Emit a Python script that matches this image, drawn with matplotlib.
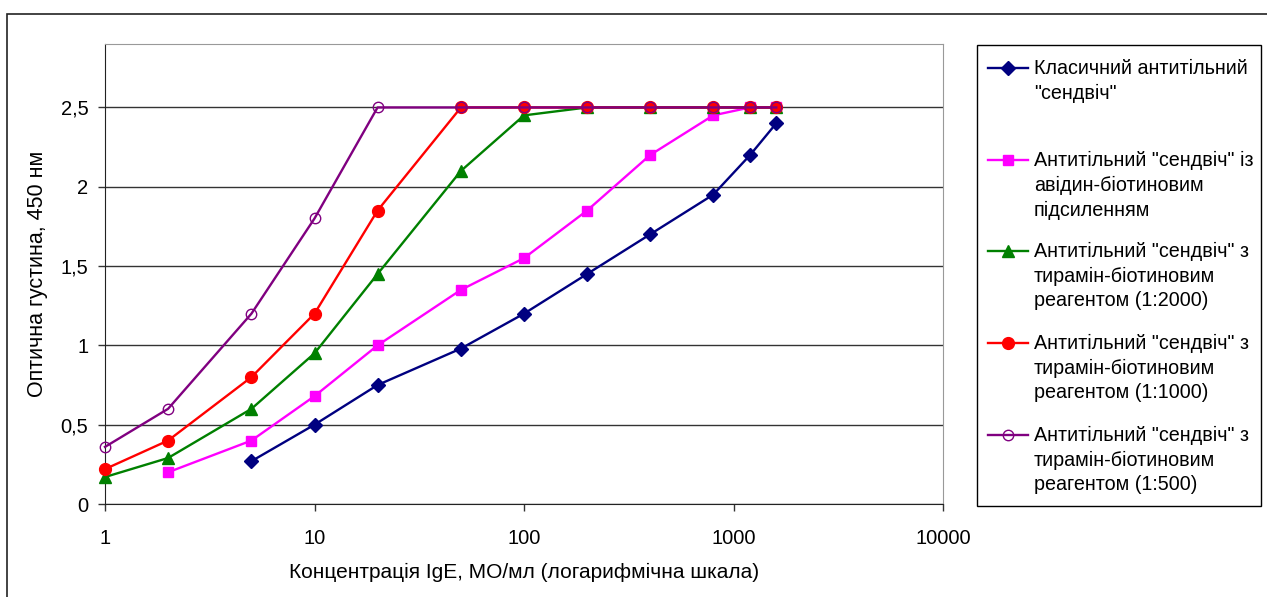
import matplotlib
matplotlib.use("Agg")
import matplotlib.pyplot as plt
from matplotlib.lines import Line2D
from matplotlib.patches import Rectangle

plt.rcParams['font.family'] = ['Liberation Sans', 'DejaVu Sans']

# concentrations, IU/ml
conc = [1, 2, 5, 10, 20, 50, 100, 200, 400, 800, 1200, 1600]

classic_x = conc[2:]
classic = [0.27, 0.5, 0.75, 0.98, 1.2, 1.45, 1.7, 1.95, 2.2, 2.4]

avidin_x = conc[1:]
avidin = [0.2, 0.4, 0.68, 1.0, 1.35, 1.55, 1.85, 2.2, 2.45, 2.5, 2.5]

tyr2000 = [0.17, 0.29, 0.6, 0.95, 1.45, 2.1, 2.45, 2.5, 2.5, 2.5, 2.5, 2.5]
tyr1000 = [0.22, 0.4, 0.8, 1.2, 1.85, 2.5, 2.5, 2.5, 2.5, 2.5, 2.5, 2.5]
tyr500 = [0.36, 0.6, 1.2, 1.8, 2.5, 2.5, 2.5, 2.5, 2.5, 2.5, 2.5, 2.5]

y_ticks = [0, 0.5, 1, 1.5, 2, 2.5]
y_labels = ["0", "0,5", "1", "1,5", "2", "2,5"]
x_ticks = [1, 10, 100, 1000, 10000]
x_labels = ["1", "10", "100", "1000", "10000"]

legend_lines = [
    ["Класичний антитільний", "\"сендвіч\""],
    ["Антитільний \"сендвіч\" із", "авідин-біотиновим", "підсиленням"],
    ["Антитільний \"сендвіч\" з", "тирамін-біотиновим", "реагентом (1:2000)"],
    ["Антитільний \"сендвіч\" з", "тирамін-біотиновим", "реагентом (1:1000)"],
    ["Антитільний \"сендвіч\" з", "тирамін-біотиновим", "реагентом (1:500)"],
]

W, H = 1267, 597
fig = plt.figure(figsize=(W / 100, H / 100), dpi=100)
ax = fig.add_axes([105 / W, 1 - 504 / H, (943 - 105) / W, (504 - 44) / H])

styles = [
    dict(color="#000080", marker="D", ms=7, mfc="#000080", mec="#000080"),
    dict(color="#FF00FF", marker="s", ms=7.5, mfc="#FF00FF", mec="#FF00FF"),
    dict(color="#008000", marker="^", ms=8.5, mfc="#008000", mec="#008000"),
    dict(color="#FF0000", marker="o", ms=8.5, mfc="#FF0000", mec="#FF0000"),
    dict(color="#800080", marker="o", ms=7.5, mfc="none", mec="#800080", mew=1.0),
]

series = [(classic_x, classic), (avidin_x, avidin), (conc, tyr2000),
          (conc, tyr1000), (conc, tyr500)]
for (xs, ys), st in zip(series, styles):
    ax.plot(xs, ys, lw=1.7, clip_on=False, zorder=3, **st)

ax.set_xscale("log")
ax.set_xlim(1, 10000)
ax.set_ylim(0, 2.9)
ax.set_xticks(x_ticks)
ax.set_xticklabels(x_labels)
ax.minorticks_off()
ax.set_yticks(y_ticks)
ax.set_yticklabels(y_labels)
ax.tick_params(axis="both", labelsize=14.5, direction="out", length=5,
               width=1, color="#333333")
ax.tick_params(axis="x", pad=13)
ax.tick_params(axis="y", pad=7)
ax.yaxis.grid(True, color="#333333", lw=1)
ax.set_axisbelow(True)
for side in ["top", "right"]:
    ax.spines[side].set_color("#999999")
for side in ["left", "bottom"]:
    ax.spines[side].set_color("#222222")

ax.set_xlabel("Концентрація IgE, МО/мл (логарифмічна шкала)", fontsize=15,
              labelpad=11)
ax.set_ylabel("Оптична густина, 450 нм", fontsize=15.5, labelpad=9)

# legend drawn by hand so each marker sits on the first line of its label
fig.patches.append(Rectangle((977 / W, 1 - 506 / H), (1261 - 977) / W,
                             (506 - 45) / H, transform=fig.transFigure,
                             fill=False, ec="black", lw=1))
first_rows = [68, 160, 251, 343, 435]
for lines, y0, st in zip(legend_lines, first_rows, styles):
    yf = 1 - y0 / H
    fig.lines.append(Line2D([988 / W, 1028 / W], [yf, yf],
                            transform=fig.transFigure, lw=1.7,
                            color=st["color"]))
    mk = {k: v for k, v in st.items() if k != "color"}
    fig.lines.append(Line2D([1008 / W], [yf], transform=fig.transFigure,
                            lw=0, **mk))
    for i, line in enumerate(lines):
        fig.text(1034 / W, 1 - (y0 + 25 * i) / H, line, fontsize=14.2,
                 va="center", ha="left")

# outer chart border (left and top only visible)
fig.patches.append(Rectangle((7 / W, -0.1), 1.2, 1 - 14 / H + 0.1,
                             transform=fig.transFigure, fill=False,
                             ec="#222222", lw=1.2))

fig.savefig("out.png", dpi=100)
